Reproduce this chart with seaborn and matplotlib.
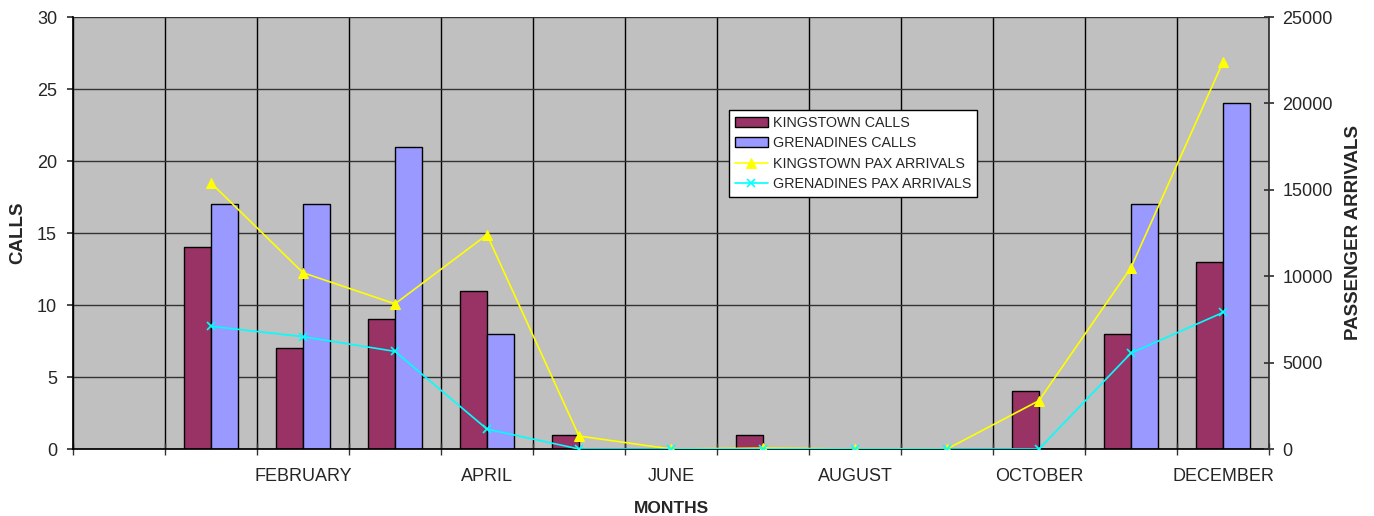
import numpy as np
import pandas as pd
import seaborn as sns
import matplotlib.pyplot as plt
from matplotlib.ticker import MultipleLocator, FixedLocator

# Monthly cruise calls and passenger arrivals (first slot is an empty category)
months = ['', 'JANUARY', 'FEBRUARY', 'MARCH', 'APRIL', 'MAY', 'JUNE',
          'JULY', 'AUGUST', 'SEPTEMBER', 'OCTOBER', 'NOVEMBER', 'DECEMBER']
kingstown_calls = [14, 7, 9, 11, 1, 0, 1, 0, 0, 4, 8, 13]
grenadines_calls = [17, 17, 21, 8, 0, 0, 0, 0, 0, 0, 17, 24]
kingstown_pax = [15400, 10200, 8400, 12400, 750, 0, 50, 0, 0, 2800, 10500, 22400]
grenadines_pax = [7100, 6500, 5650, 1150, 0, 0, 0, 0, 0, 0, 5550, 7900]

sns.set_theme(style="ticks")
plt.rcParams['font.family'] = ['Liberation Sans', 'DejaVu Sans']

calls = pd.DataFrame({
    'month': months[1:] * 2,
    'calls': kingstown_calls + grenadines_calls,
    'series': ['KINGSTOWN CALLS'] * 12 + ['GRENADINES CALLS'] * 12,
})

fig = plt.figure(figsize=(13.74, 5.16), dpi=100)
ax = fig.add_axes([73 / 1374, 1 - 449 / 516, (1269 - 73) / 1374, (449 - 17) / 516])
ax.set_facecolor('#C0C0C0')

sns.barplot(data=calls, x='month', y='calls', hue='series', order=months,
            palette=['#993366', '#9999FF'], width=0.587, edgecolor='black',
            linewidth=1, saturation=1, ax=ax)

ax.set_ylim(0, 30)
ax.set_xlim(-0.5, len(months) - 0.5)
ax.yaxis.set_major_locator(MultipleLocator(5))
ax.set_axisbelow(True)
ax.grid(axis='y', color='#333333', linewidth=1)

# category boundaries carry the ticks and vertical grid lines
bounds = np.arange(len(months) + 1) - 0.5
ax.xaxis.set_minor_locator(FixedLocator(bounds))
ax.xaxis.grid(True, which='minor', color='black', linewidth=1)
ax.set_xticks(range(len(months)))
ax.set_xticklabels([m if i % 2 == 0 else '' for i, m in enumerate(months)])
ax.tick_params(axis='x', which='major', length=0, labelsize=13, pad=14)
ax.tick_params(axis='x', which='minor', length=8, direction='inout', width=1, color='#333333')
ax.tick_params(axis='y', length=4.5, direction='out', labelsize=13, color='#333333', pad=7)

for side in ['top', 'right']:
    ax.spines[side].set_visible(False)
ax.spines['left'].set_color('black')
ax.spines['bottom'].set_color('black')

ax.set_xlabel('MONTHS', fontsize=12.5, fontweight='bold', labelpad=11)
ax.set_ylabel('CALLS', fontsize=13.5, fontweight='bold', labelpad=7.5)

# passenger arrivals on the secondary axis
ax2 = ax.twinx()
pos = [months.index(m) for m in months[1:]]
sns.lineplot(x=pos, y=kingstown_pax, ax=ax2, color='#FFFF00', marker='^',
             markersize=7, markeredgecolor='#FFFF00', linewidth=1.2,
             label='KINGSTOWN PAX ARRIVALS')
sns.lineplot(x=pos, y=grenadines_pax, ax=ax2, color='#00FFFF', marker='x',
             markersize=6, markeredgewidth=1.2, markeredgecolor='#00FFFF',
             linewidth=1.2, label='GRENADINES PAX ARRIVALS')
ax2.set_ylim(0, 25000)
ax2.yaxis.set_major_locator(MultipleLocator(5000))
ax2.set_xlim(-0.5, len(months) - 0.5)
ax2.tick_params(axis='y', length=7, direction='inout', labelsize=13, color='#333333', pad=6)
for side in ['top', 'left', 'bottom']:
    ax2.spines[side].set_visible(False)
ax2.spines['right'].set_color('#333333')
ax2.set_ylabel('PASSENGER ARRIVALS', fontsize=13.5, fontweight='bold', labelpad=8.5)

h1, l1 = ax.get_legend_handles_labels()
h2, l2 = ax2.get_legend_handles_labels()
ax.get_legend().remove()
ax2.get_legend().remove()
leg = fig.legend(h1 + h2, l1 + l2, loc='upper left',
                 bbox_to_anchor=(729 / 1374, 1 - 110 / 516), fontsize=10.3,
                 frameon=True, fancybox=False, edgecolor='black',
                 framealpha=1, handlelength=2.3, labelspacing=0.45,
                 borderpad=0.4, handletextpad=0.4, borderaxespad=0)
leg.get_frame().set_linewidth(1)

fig.savefig('out.png', dpi=100)
